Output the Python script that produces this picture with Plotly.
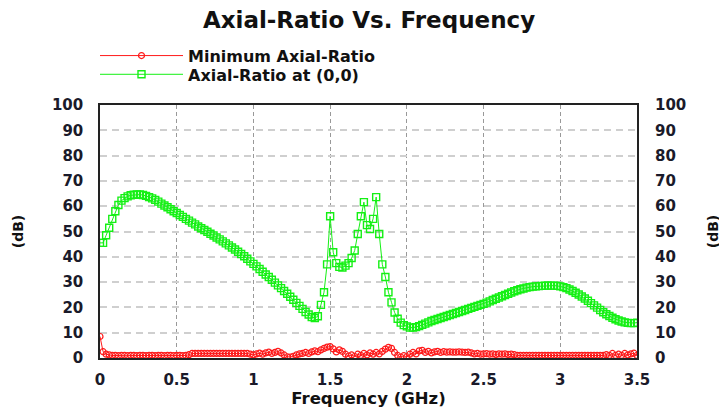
import plotly.graph_objects as go

STEP = 0.02
freq_ghz = [round(i * STEP, 2) for i in range(176)]

axial_ratio_00 = [
    45.5, 45.5, 48.5, 51.5, 55.0, 58.0, 60.5, 62.2, 63.2, 63.9,
    64.3, 64.5, 64.6, 64.6, 64.4, 64.1, 63.6, 63.1, 62.5, 61.8,
    61.0, 60.3, 59.6, 58.8, 58.0, 57.3, 56.5, 55.8, 55.0, 54.3,
    53.5, 52.8, 52.0, 51.3, 50.6, 49.9, 49.1, 48.4, 47.6, 46.9,
    46.1, 45.3, 44.5, 43.7, 42.9, 42.0, 41.1, 40.2, 39.2, 38.2,
    37.2, 36.2, 35.2, 34.1, 33.0, 32.0, 30.9, 29.8, 28.7, 27.6,
    26.5, 25.4, 24.2, 23.0, 21.8, 20.6, 19.4, 18.2, 17.2, 16.2,
    15.8, 16.5, 21.0, 26.0, 37.0, 56.0, 41.8, 37.5, 36.0, 35.8,
    36.5, 37.5, 39.5, 42.5, 49.0, 56.0, 61.6, 52.5, 51.0, 55.0,
    63.6, 49.0, 37.0, 32.0, 26.0, 22.0, 18.0, 15.5, 14.0, 13.0,
    12.5, 12.0, 12.0, 12.2, 12.6, 13.1, 13.6, 14.1, 14.6, 15.0,
    15.4, 15.8, 16.2, 16.6, 17.0, 17.4, 17.8, 18.2, 18.6, 19.0,
    19.4, 19.8, 20.2, 20.6, 21.0, 21.4, 21.9, 22.4, 22.9, 23.4,
    23.9, 24.4, 24.9, 25.4, 25.9, 26.4, 26.8, 27.2, 27.5, 27.8,
    28.0, 28.2, 28.3, 28.4, 28.5, 28.6, 28.6, 28.6, 28.6, 28.5,
    28.3, 28.0, 27.6, 27.1, 26.5, 25.8, 25.1, 24.3, 23.5, 22.6,
    21.7, 20.8, 19.9, 19.0, 18.1, 17.3, 16.6, 15.9, 15.3, 14.8,
    14.4, 14.1, 13.9, 13.8, 13.8, 14.0,
]

min_axial_ratio = [
    8.5, 2.5, 1.5, 1.2, 1.0, 1.0, 0.9, 1.0, 1.0, 0.9,
    1.0, 1.0, 0.9, 1.0, 1.0, 0.9, 1.0, 1.0, 0.9, 1.0,
    1.0, 0.9, 1.0, 1.0, 0.9, 1.0, 1.0, 0.9, 1.0, 1.3,
    1.8, 1.8, 1.8, 1.8, 1.8, 1.8, 1.8, 1.8, 1.8, 1.8,
    1.8, 1.8, 1.8, 1.8, 1.8, 1.8, 1.8, 1.8, 1.8, 1.5,
    1.2, 1.6, 1.9, 1.5, 2.0, 2.3, 1.8, 2.2, 2.6, 2.0,
    1.2, 0.5, 0.4, 0.7, 1.2, 1.6, 1.8, 2.2, 1.8, 2.4,
    2.8, 2.5, 3.2, 3.8, 4.3, 4.5, 3.6, 2.4, 3.2, 2.6,
    1.5, 0.8, 1.2, 0.6, 1.5, 1.0, 1.8, 1.2, 2.0, 1.5,
    2.2, 1.6, 2.6, 3.5, 4.2, 3.8, 2.2, 1.0, 0.4, 0.9,
    0.5, 1.5, 2.2, 1.6, 2.8, 3.0, 2.2, 2.6, 2.0, 2.4,
    2.6, 2.2, 2.5, 2.3, 2.4, 2.3, 2.3, 2.4, 2.3, 2.2,
    2.3, 2.0, 1.6, 1.8, 1.5, 1.6, 1.7, 1.5, 1.6, 1.4,
    1.6, 1.5, 1.6, 1.4, 1.5, 1.3, 1.0, 1.0, 1.0, 1.0,
    1.0, 1.0, 1.0, 1.0, 1.0, 1.0, 1.0, 1.0, 1.0, 1.0,
    1.0, 1.0, 1.0, 1.0, 1.0, 1.0, 1.0, 1.0, 1.0, 1.0,
    1.0, 1.0, 1.0, 1.0, 1.0, 1.3, 1.0, 1.8, 1.0, 1.5,
    1.0, 1.8, 1.2, 1.6, 1.9, 1.0,
]

x_ticks = [0, 0.5, 1, 1.5, 2, 2.5, 3, 3.5]
x_tick_labels = ["0", "0.5", "1", "1.5", "2", "2.5", "3", "3.5"]
y_ticks = list(range(0, 101, 10))

RED = "#ff1a1a"
GREEN = "#14f014"
FONT = "DejaVu Sans, Verdana, sans-serif"
TXT = "#1a1a2a"

fig = go.Figure()
fig.add_trace(go.Scatter(
    x=freq_ghz, y=min_axial_ratio, mode="lines+markers",
    name="Minimum Axial-Ratio", legend="legend",
    line=dict(color=RED, width=1),
    marker=dict(symbol="circle-open", size=6, color=RED, line=dict(width=1.2)),
))
fig.add_trace(go.Scatter(
    x=freq_ghz, y=axial_ratio_00, mode="lines+markers",
    name="Axial-Ratio at (0,0)", legend="legend2",
    line=dict(color=GREEN, width=1),
    marker=dict(symbol="square-open", size=7, color=GREEN, line=dict(width=1.4)),
))
# right-hand mirror axis
fig.add_trace(go.Scatter(
    x=[freq_ghz[0]], y=[axial_ratio_00[0]], yaxis="y2", mode="markers",
    marker=dict(opacity=0), showlegend=False, hoverinfo="skip",
))

legend_style = dict(x=-0.0093, xanchor="left", yanchor="middle",
                    font=dict(size=16, color="#111", weight="bold"), itemwidth=83,
                    bgcolor="rgba(0,0,0,0)")

fig.update_layout(
    width=727, height=408,
    margin=dict(l=92, r=98, t=97, b=58, autoexpand=False),
    paper_bgcolor="white", plot_bgcolor="white",
    font=dict(family=FONT, color=TXT, size=14),
    title=dict(text="<b>Axial-Ratio Vs. Frequency</b>", x=0.4966, xanchor="center",
               y=0.970, yanchor="middle", font=dict(size=23, color="#111")),
    showlegend=True,
    legend=dict(y=1.195, **legend_style),
    legend2=dict(y=1.121, **legend_style),
    xaxis=dict(range=[0, 3.5], tickvals=x_ticks, ticktext=x_tick_labels,
               showline=True, mirror=True, linecolor="#222", linewidth=1.5,
               showgrid=True, gridcolor="#999", griddash="4px,3px", gridwidth=1,
               zeroline=False, ticks="", ticklabelstandoff=7,
               tickfont=dict(size=15, family=FONT, color=TXT, weight="bold"),
               title=dict(text="<b>Frequency (GHz)</b>", font=dict(size=16.5, color="#111"),
                          standoff=4)),
    yaxis=dict(range=[0, 100], tickvals=y_ticks,
               showline=True, mirror=True, linecolor="#222", linewidth=1.5,
               showgrid=True, gridcolor="#cfcfcf", griddash="7px,5px", gridwidth=2,
               zeroline=False, ticks="", ticklabelstandoff=12,
               tickfont=dict(size=15, family=FONT, color=TXT, weight="bold"),
               title=dict(text="<b>(dB)</b>", font=dict(size=14, color="#111"), standoff=25)),
    yaxis2=dict(range=[0, 100], tickvals=y_ticks, overlaying="y", side="right",
                showgrid=False, zeroline=False, showline=False, ticks="",
                ticklabelstandoff=17,
                tickfont=dict(size=15, family=FONT, color=TXT, weight="bold"),
                title=dict(text="<b>(dB)</b>", font=dict(size=14, color="#111"), standoff=22)),
)

fig.write_html("out.html")
